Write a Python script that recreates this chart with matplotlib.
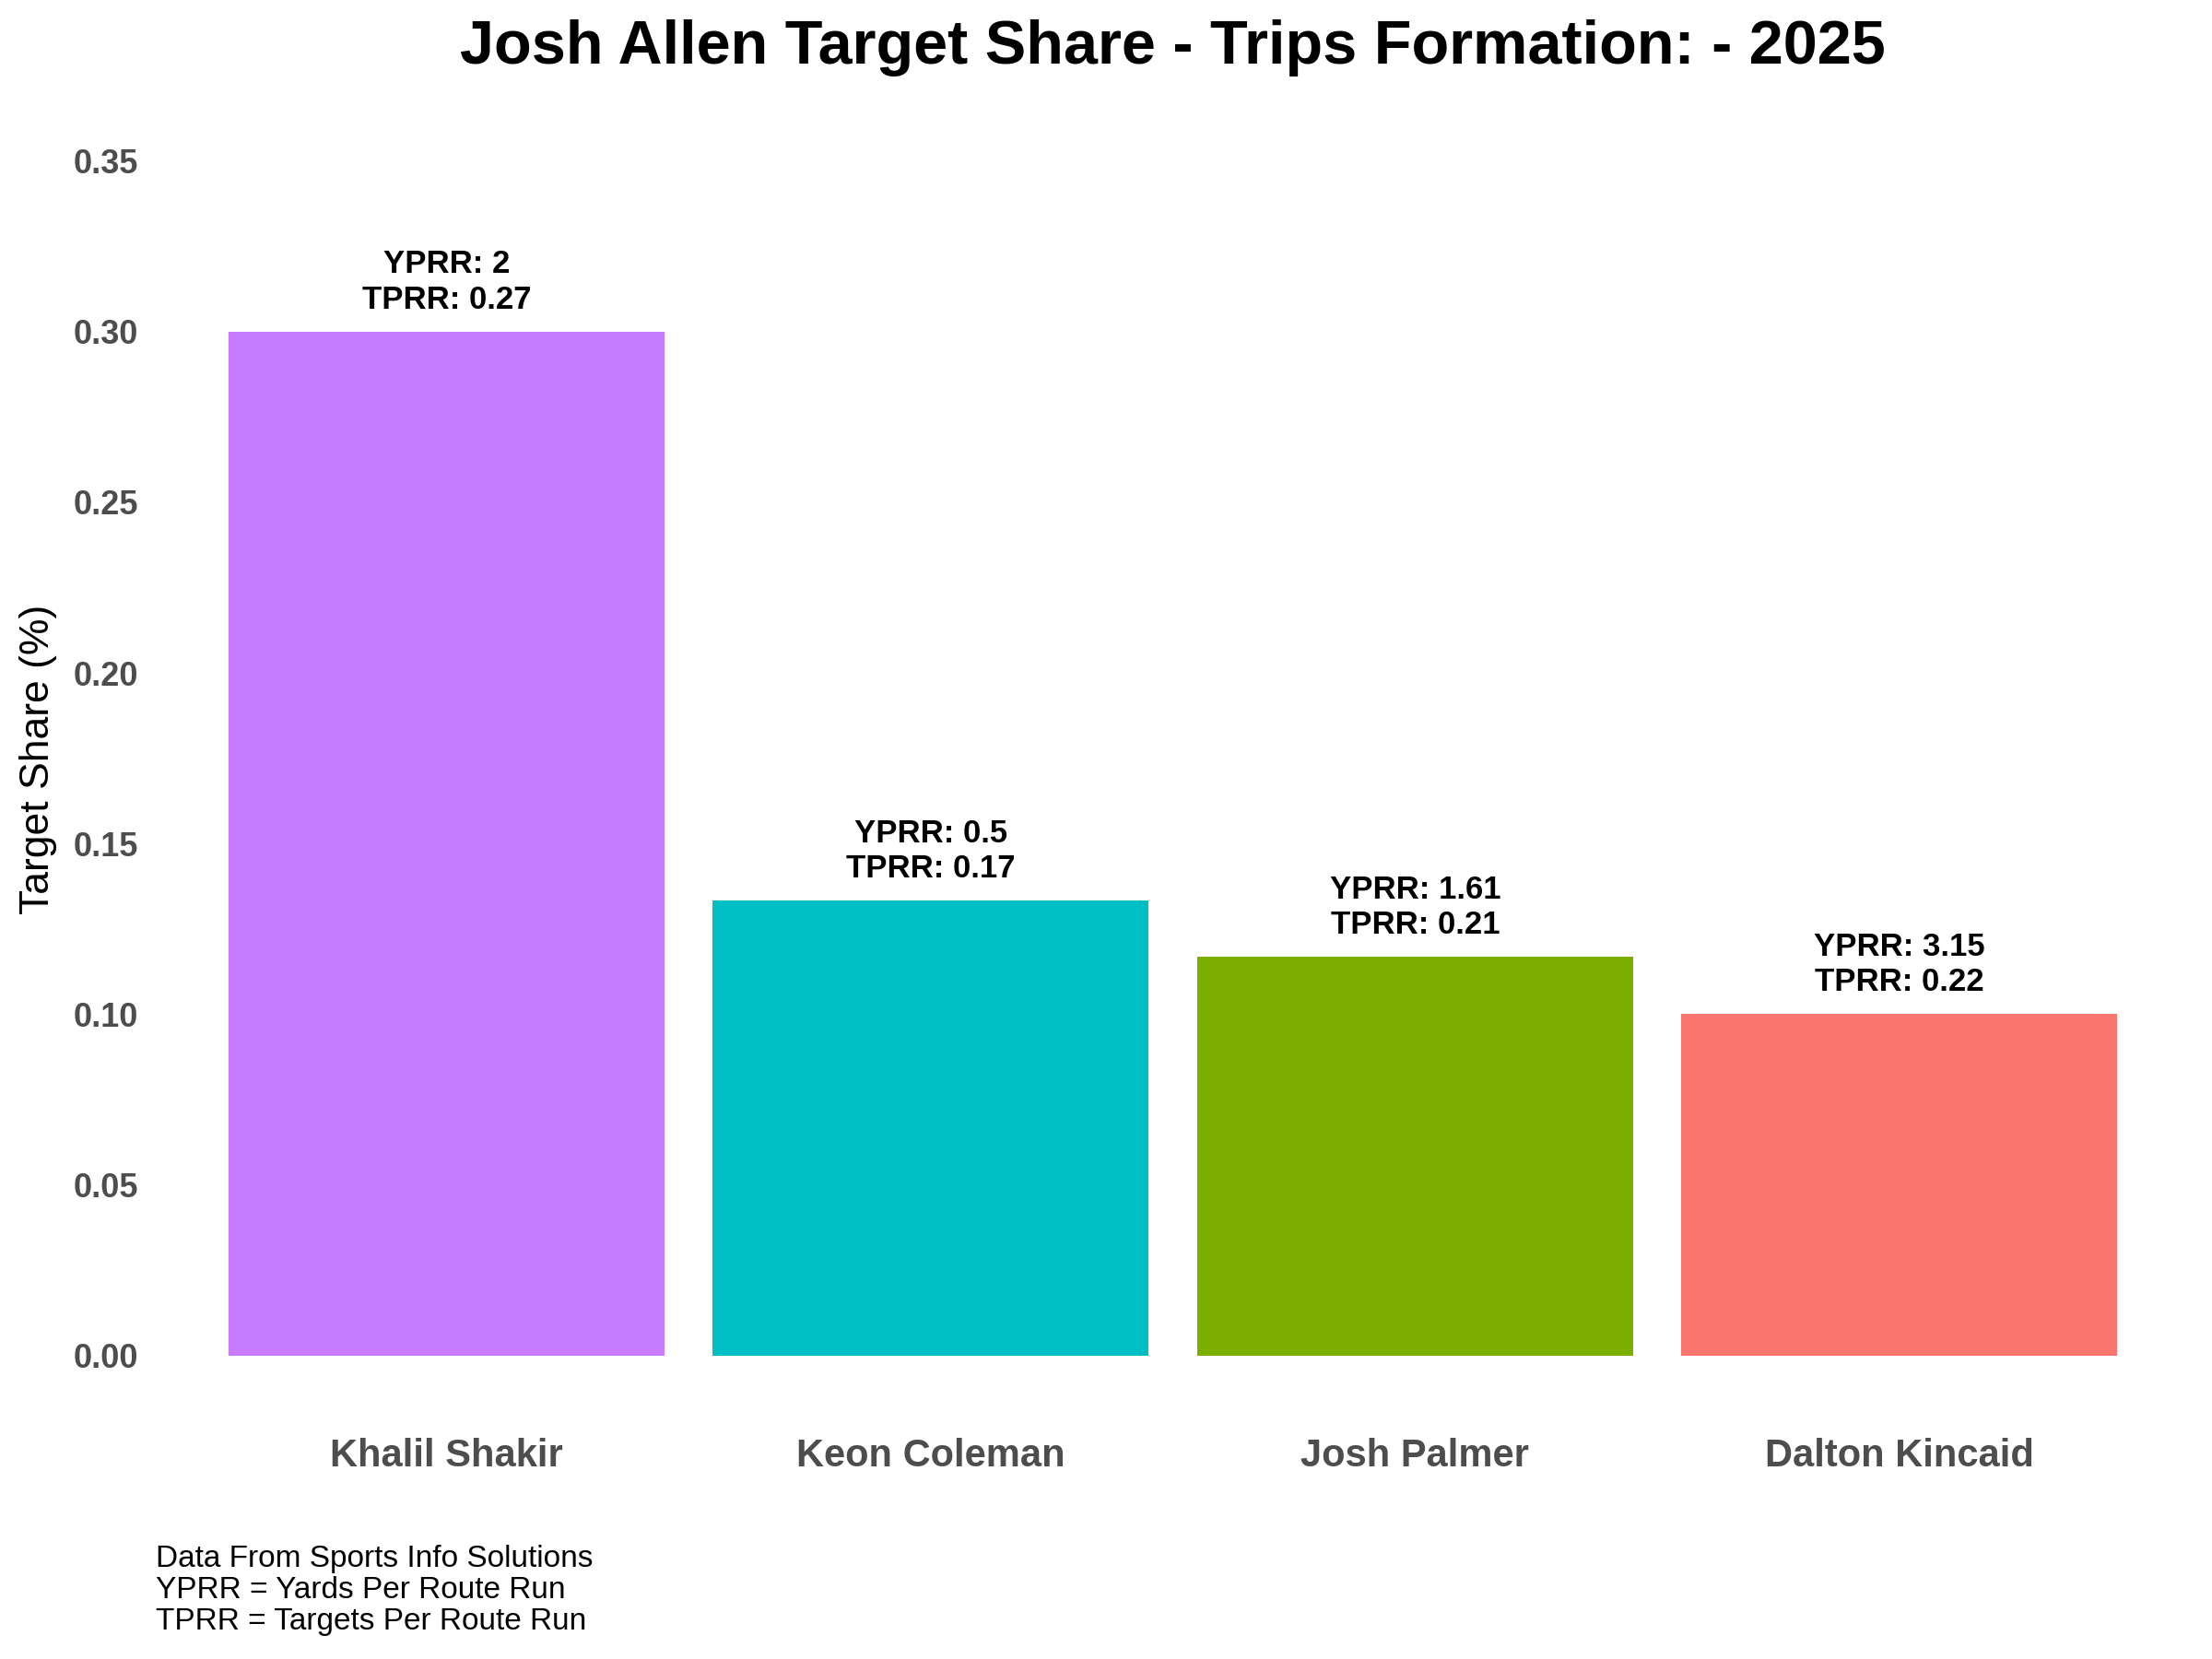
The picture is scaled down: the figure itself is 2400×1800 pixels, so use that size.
import matplotlib
matplotlib.use('Agg')
import matplotlib.pyplot as plt

players = ['Khalil Shakir', 'Keon Coleman', 'Josh Palmer', 'Dalton Kincaid']
target_share = [0.30, 0.1333, 0.1167, 0.10]
yprr = ['2', '0.5', '1.61', '3.15']
tprr = ['0.27', '0.17', '0.21', '0.22']
colors = ['#C77CFF', '#00BFC4', '#7CAE00', '#F8766D']

plt.rcParams['font.family'] = ['Liberation Sans', 'DejaVu Sans']

fig = plt.figure(figsize=(12, 9), dpi=200)
ax = fig.add_axes([0.0705, 0.147, 0.9195, 0.792])

x = list(range(1, len(players) + 1))
ax.bar(x, target_share, width=0.9, color=colors)

for xi, ts, y_, t_ in zip(x, target_share, yprr, tprr):
    ax.annotate('YPRR: %s\nTPRR: %s' % (y_, t_), (xi, ts), xytext=(0, 6.5),
                textcoords='offset points', ha='center', va='bottom',
                fontsize=12.5, fontweight='bold', linespacing=1.2)

ax.set_xlim(0.4, 4.6)
ax.set_ylim(-0.0175, 0.3675)
ax.set_xticks(x)
ax.set_xticklabels(players, fontsize=15, fontweight='bold', color='#4D4D4D')
ax.set_yticks([0, 0.05, 0.10, 0.15, 0.20, 0.25, 0.30, 0.35])
ax.set_yticklabels(['%.2f' % v for v in ax.get_yticks()], fontsize=13,
                   fontweight='bold', color='#4D4D4D')
ax.tick_params(axis='x', length=0, pad=9)
ax.tick_params(axis='y', length=0, pad=7)
for s in ax.spines.values():
    s.set_visible(False)

fig.text(0.0172, 0.5425, 'Target Share (%)', rotation=90, ha='center', va='center',
         fontsize=16)
fig.text(0.53, 0.971, 'Josh Allen Target Share - Trips Formation: - 2025',
         ha='center', va='center', fontsize=24, fontweight='bold')
fig.text(0.0705, 0.014, 'Data From Sports Info Solutions\nYPRR = Yards Per Route Run\nTPRR = Targets Per Route Run',
         ha='left', va='bottom', fontsize=12, linespacing=1.12)

fig.savefig('out.png', dpi=200)
